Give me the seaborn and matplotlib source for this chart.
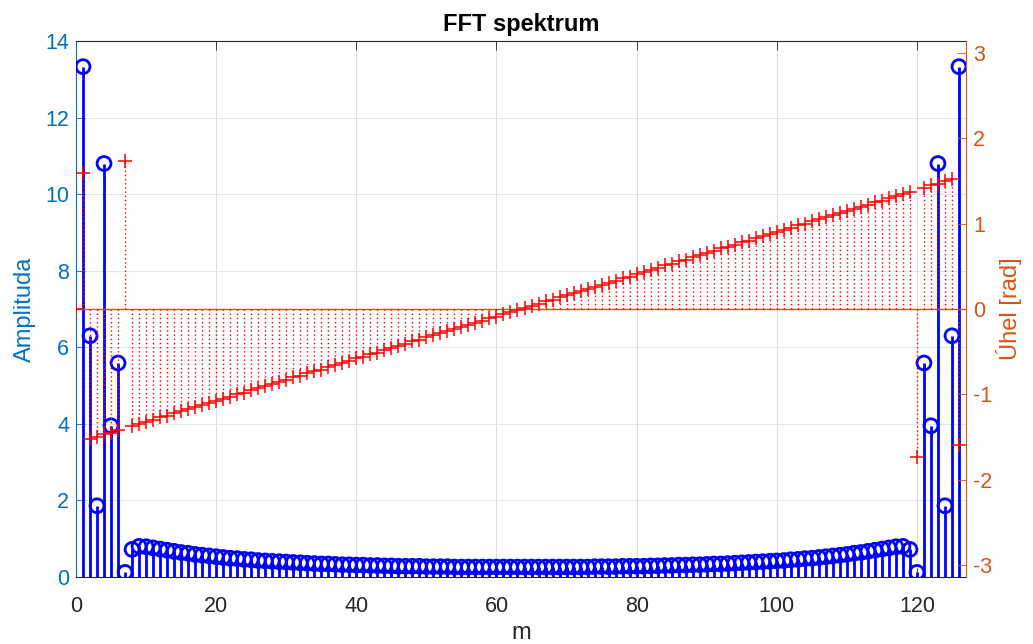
import numpy as np
import pandas as pd
import matplotlib
matplotlib.use("Agg")
import matplotlib.pyplot as plt
import seaborn as sns

# Magnitude of the spectrum, bins m = 1 .. 126
amplitude = [
    13.33, 6.30, 1.86, 10.80, 3.95, 5.59, 0.12,
    0.72, 0.80, 0.79, 0.76, 0.73, 0.70, 0.67, 0.64, 0.62, 0.59, 0.57, 0.55, 0.53,
    0.51, 0.49, 0.48, 0.46, 0.45, 0.43, 0.42, 0.41, 0.40, 0.39,
    0.38, 0.37, 0.36, 0.35, 0.34, 0.34, 0.33, 0.32, 0.32, 0.31,
    0.31, 0.30, 0.30, 0.29, 0.29, 0.28, 0.28, 0.28, 0.28, 0.27,
    0.27, 0.27, 0.27, 0.26, 0.26, 0.26, 0.26, 0.26, 0.26, 0.26, 0.26, 0.26, 0.26,
    0.26, 0.26, 0.26, 0.26, 0.26, 0.26, 0.26, 0.26, 0.26, 0.26, 0.27, 0.27, 0.27,
    0.27, 0.28, 0.28, 0.28, 0.28, 0.29, 0.29, 0.30, 0.30, 0.31,
    0.31, 0.32, 0.32, 0.33, 0.34, 0.34, 0.35, 0.36, 0.37, 0.38,
    0.39, 0.40, 0.41, 0.42, 0.43, 0.45, 0.46, 0.48, 0.49, 0.51,
    0.53, 0.55, 0.57, 0.59, 0.62, 0.64, 0.67, 0.70, 0.73, 0.76, 0.79, 0.80, 0.72,
    0.12, 5.59, 3.95, 10.80, 1.86, 6.30, 13.33,
]

# Phase of the spectrum in radians, bins m = 0 .. 126
phase = [
    0.00,
    1.60, -1.52, -1.50, -1.47, -1.45, -1.42, 1.74,
    -1.37, -1.35, -1.32, -1.30, -1.27, -1.25, -1.22, -1.20, -1.17, -1.15,
    -1.13, -1.10, -1.08, -1.05, -1.03, -1.00, -0.98, -0.95, -0.93, -0.90,
    -0.88, -0.85, -0.83, -0.80, -0.78, -0.75, -0.73, -0.71, -0.68, -0.66,
    -0.63, -0.61, -0.58, -0.56, -0.53, -0.51, -0.48, -0.46, -0.43, -0.41,
    -0.38, -0.36, -0.33, -0.31, -0.28, -0.26, -0.24, -0.21, -0.19, -0.16,
    -0.14, -0.11, -0.09, -0.06, -0.04, -0.01,
    0.01, 0.04, 0.06, 0.09, 0.11, 0.14,
    0.16, 0.19, 0.21, 0.24, 0.26, 0.28, 0.31, 0.33, 0.36, 0.38,
    0.41, 0.43, 0.46, 0.48, 0.51, 0.53, 0.56, 0.58, 0.61, 0.63,
    0.66, 0.68, 0.71, 0.73, 0.75, 0.78, 0.80, 0.83, 0.85, 0.88,
    0.90, 0.93, 0.95, 0.98, 1.00, 1.03, 1.05, 1.08, 1.10, 1.13,
    1.15, 1.17, 1.20, 1.22, 1.25, 1.27, 1.30, 1.32, 1.35, 1.37,
    -1.74, 1.42, 1.45, 1.47, 1.50, 1.52, -1.60,
]

m_amp = np.arange(1, 1 + len(amplitude))
m_phase = np.arange(0, len(phase))

x_ticks = [0, 20, 40, 60, 80, 100, 120]
amp_ticks = [0, 2, 4, 6, 8, 10, 12, 14]
phase_ticks = [-3, -2, -1, 0, 1, 2, 3]

title_text = "FFT spektrum"
x_label = "m"
amp_label = "Amplituda"
phase_label = "Úhel [rad]"

BLUE_AX = "#0072BD"
ORANGE_AX = "#D95319"
DARK = "#262626"

sns.set_style("white")
plt.rcParams["font.family"] = ["Liberation Sans", "DejaVu Sans"]
plt.rcParams["axes.unicode_minus"] = False

df_amp = pd.DataFrame({"m": m_amp, "amp": amplitude})
df_ph = pd.DataFrame({"m": m_phase, "phase": phase})

fig = plt.figure(figsize=(10.33, 6.44), dpi=100)
ax = fig.add_axes([76 / 1033, 1 - 577 / 644, 890 / 1033, 536 / 644])

# amplitude stems with open circles
ax.vlines(df_amp["m"], 0, df_amp["amp"], color="blue", lw=2.0, zorder=2)
sns.scatterplot(data=df_amp, x="m", y="amp", ax=ax, marker="o", s=100,
                linewidth=2.0, zorder=3, legend=False)
circles = ax.collections[-1]
circles.set_facecolor("none")
circles.set_edgecolor("blue")

ax.set_xlim(0, 127)
ax.set_ylim(0, 14)
ax.set_xticks(x_ticks)
ax.set_yticks(amp_ticks)
ax.set_axisbelow(True)
ax.xaxis.grid(True, color="#dcdcdc", lw=0.7)
ax.yaxis.grid(True, color="#d9e9f5", lw=0.7)

# phase on the right axis: dotted stems, plus markers, baseline
ax2 = ax.twinx()
ax2.axhline(0, color=ORANGE_AX, lw=1.0, zorder=1)
ax2.vlines(df_ph["m"], 0, df_ph["phase"], color="red", lw=1.0,
           linestyles=(0, (1.0, 2.0)), zorder=2)
sns.scatterplot(data=df_ph, x="m", y="phase", ax=ax2, marker="+", s=115,
                color="red", linewidth=1.1, zorder=3, legend=False)
ax2.set_ylim(-np.pi, np.pi)
ax2.set_yticks(phase_ticks)
ax2.set_xlim(0, 127)

# spines
for side in ("top", "bottom"):
    ax.spines[side].set_color(DARK)
    ax.spines[side].set_linewidth(0.8)
ax.spines["left"].set_color(BLUE_AX)
ax.spines["left"].set_linewidth(0.8)
ax.spines["right"].set_visible(False)
for side in ("top", "bottom", "left"):
    ax2.spines[side].set_visible(False)
ax2.spines["right"].set_color(ORANGE_AX)
ax2.spines["right"].set_linewidth(0.8)

# ticks
ax.tick_params(axis="x", direction="in", length=6.5, width=0.6, top=True,
               bottom=True, color=DARK, labelcolor=DARK, labelsize=15.5, pad=14)
ax.tick_params(axis="y", direction="in", length=6.5, width=0.6, left=True,
               right=False, color=BLUE_AX, labelcolor=BLUE_AX, labelsize=15.5, pad=5)
ax2.tick_params(axis="y", direction="in", length=6.5, width=0.6, right=True,
                left=False, color=ORANGE_AX, labelcolor=ORANGE_AX, labelsize=15.5, pad=5)

# labels
ax.set_title(title_text, fontsize=17, fontweight="bold", color="black", pad=7)
ax.set_xlabel(x_label, fontsize=17, color=DARK, labelpad=3)
ax.set_ylabel(amp_label, fontsize=17, color=BLUE_AX)
ax.yaxis.set_label_coords(-0.045, 0.5)
ax2.set_ylabel(phase_label, fontsize=17, color=ORANGE_AX)
ax2.yaxis.set_label_coords(1.034, 0.5)

fig.savefig("out.png", dpi=100)
